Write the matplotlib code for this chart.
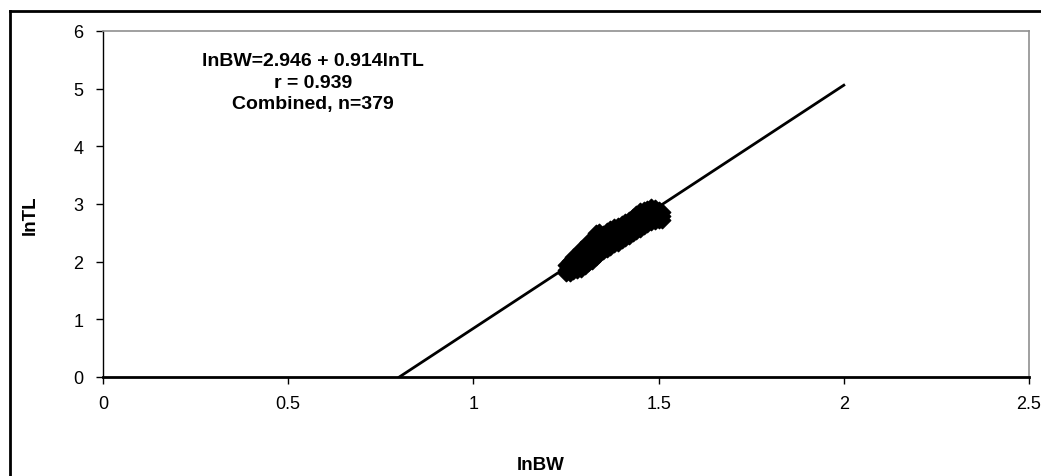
import matplotlib
matplotlib.use("Agg")
import matplotlib.pyplot as plt
from matplotlib.lines import Line2D

plt.rcParams['font.family'] = ['Liberation Sans', 'DejaVu Sans']

# Observed data cluster (lnBW, lnTL): upper, middle and lower rows of the band
ln_bw_col = [1.25, 1.26, 1.27, 1.28, 1.29, 1.30, 1.31, 1.32, 1.33, 1.34, 1.35, 1.36, 1.37,
             1.38, 1.39, 1.40, 1.41, 1.42, 1.43, 1.44, 1.45, 1.46, 1.47, 1.48, 1.49, 1.50,
             1.51]
ln_tl_upper = [1.95, 2.02, 2.08, 2.14, 2.22, 2.28, 2.34, 2.38, 2.50, 2.51, 2.48, 2.53, 2.57,
               2.60, 2.62, 2.65, 2.69, 2.73, 2.78, 2.83, 2.87, 2.90, 2.92, 2.94, 2.93, 2.90,
               2.86]
ln_tl_mid = [1.86, 1.90, 1.95, 2.00, 2.06, 2.10, 2.15, 2.20, 2.25, 2.30, 2.33, 2.37, 2.41,
             2.45, 2.48, 2.51, 2.55, 2.59, 2.63, 2.68, 2.72, 2.76, 2.79, 2.82, 2.84, 2.83,
             2.80]
ln_tl_lower = [1.80, 1.81, 1.83, 1.86, 1.88, 1.92, 1.97, 2.02, 2.08, 2.13, 2.18, 2.22, 2.26,
               2.30, 2.33, 2.37, 2.41, 2.45, 2.49, 2.53, 2.57, 2.61, 2.65, 2.68, 2.71, 2.73,
               2.73]

# Regression line end points
fit_x = [0.80, 2.00]
fit_y = [0.0, 5.06]

x_ticks = [0, 0.5, 1, 1.5, 2, 2.5]
x_tick_labels = ['0', '0.5', '1', '1.5', '2', '2.5']
y_ticks = [0, 1, 2, 3, 4, 5, 6]

annot_lines = ["lnBW=2.946 + 0.914lnTL", "r = 0.939", "Combined, n=379"]

W, H = 1041, 477
fig = plt.figure(figsize=(W / 100, H / 100), dpi=100)
ax = fig.add_axes([103 / W, 1 - 378 / H, (1029 - 103) / W, (378 - 32) / H])

ax.plot(fit_x, fit_y, color='black', lw=2.0, zorder=2)
for ys in (ln_tl_upper, ln_tl_mid, ln_tl_lower):
    ax.scatter(ln_bw_col, ys, marker='D', s=70, color='black', edgecolors='black',
               linewidths=1.0, zorder=3)

ax.set_xlim(0, 2.5)
ax.set_ylim(0, 6)
ax.set_xticks(x_ticks)
ax.set_xticklabels(x_tick_labels)
ax.set_yticks(y_ticks)
ax.tick_params(axis='both', direction='out', length=5, width=1, labelsize=13, colors='black')
ax.tick_params(axis='x', pad=8)
ax.tick_params(axis='y', pad=9)

for s in ['top', 'right']:
    ax.spines[s].set_color('#909090')
    ax.spines[s].set_linewidth(1.2)
ax.spines['left'].set_color('black')
ax.spines['left'].set_linewidth(1.0)
ax.spines['bottom'].set_color('black')
ax.spines['bottom'].set_linewidth(2.0)

for i, t in enumerate(annot_lines):
    fig.text(313 / W, 1 - (62 + 21 * i) / H, t, ha='center', va='center',
             fontsize=14, fontweight='bold')

fig.text(541 / W, 1 - 466 / H, 'lnBW', ha='center', va='center', fontsize=13.5, fontweight='bold')
fig.text(30 / W, 1 - 215 / H, 'lnTL', ha='center', va='center', fontsize=13.5,
         fontweight='bold', rotation=90)

# Outer chart-area border (left and top visible)
fig.add_artist(Line2D([10 / W, 10 / W], [0, 1 - 12 / H], transform=fig.transFigure,
                      color='black', lw=2))
fig.add_artist(Line2D([10 / W, 1], [1 - 12 / H, 1 - 12 / H], transform=fig.transFigure,
                      color='black', lw=2))

fig.savefig('out.png', dpi=100)
